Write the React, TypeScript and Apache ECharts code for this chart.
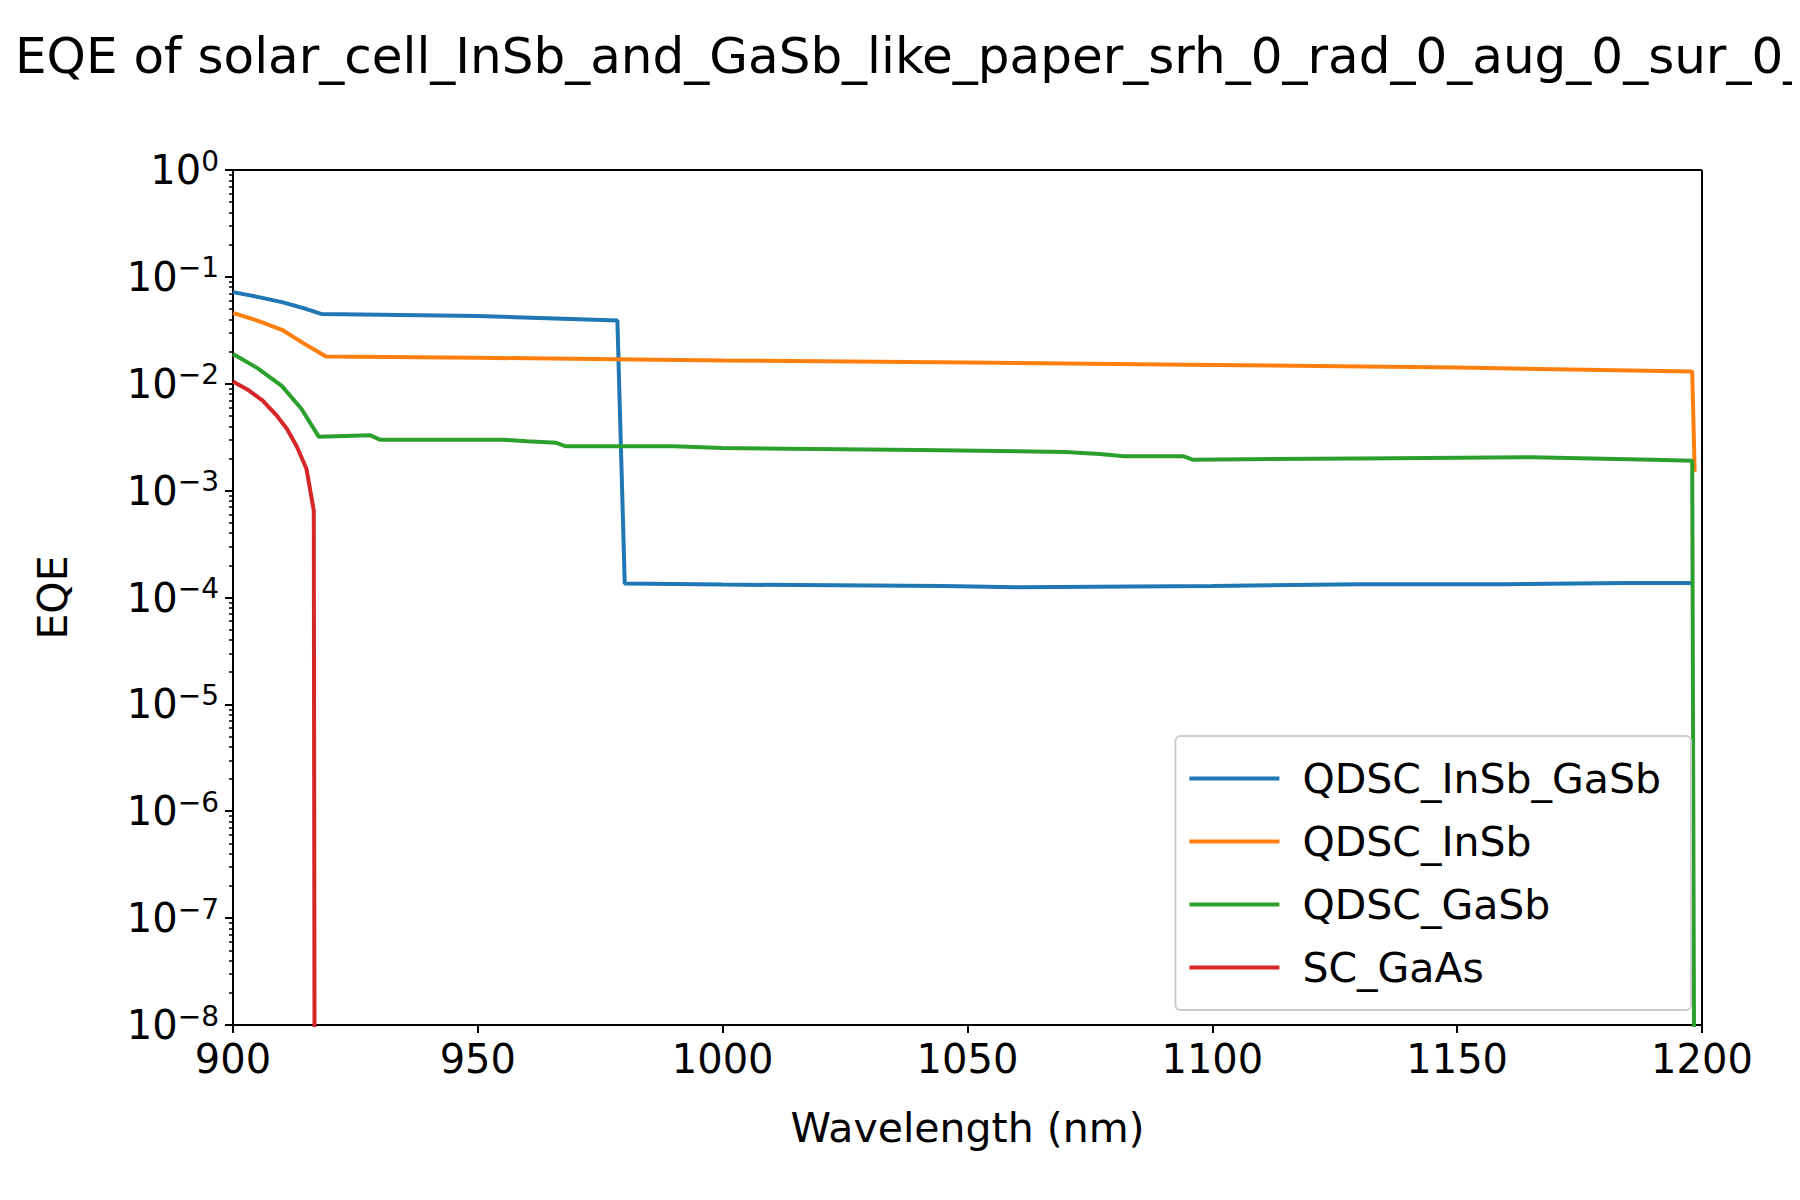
import React, { useEffect, useRef } from "react";
import * as echarts from "echarts";

const seriesNames = ["QDSC_InSb_GaSb", "QDSC_InSb", "QDSC_GaSb", "SC_GaAs"];
const colors = ["#1f77b4", "#ff7f0e", "#2ca02c", "#d62728"];
const blue: [number, number][] = [[900, 0.072], [905, 0.065], [910, 0.058], [915, 0.05], [918, 0.045], [950, 0.043], [978.5, 0.039], [980, 0.000135], [1000, 0.000132], [1045, 0.000128], [1060, 0.000125], [1100, 0.000128], [1130, 0.000133], [1160, 0.000133], [1185, 0.000137], [1198, 0.000137]];
const orange: [number, number][] = [[900, 0.046], [905, 0.039], [910, 0.032], [915, 0.023], [919, 0.018], [950, 0.0175], [1000, 0.0165], [1050, 0.0158], [1100, 0.015], [1150, 0.0142], [1198, 0.013], [1198.5, 0.0015]];
const green: [number, number][] = [[900, 0.019], [905, 0.014], [910, 0.0095], [914, 0.0058], [917.5, 0.0032], [928, 0.0033], [930, 0.003], [945, 0.003], [955, 0.003], [960, 0.0029], [966, 0.0028], [968, 0.0026], [990, 0.0026], [1000, 0.0025], [1040, 0.0024], [1070, 0.0023], [1077, 0.0022], [1082, 0.0021], [1094, 0.0021], [1096, 0.00195], [1130, 0.002], [1165, 0.00205], [1190, 0.00195], [1198, 0.0019], [1198.5, 1e-10]];
const red: [number, number][] = [[900, 0.0105], [903, 0.0088], [906, 0.007], [909, 0.005], [911, 0.0038], [913, 0.0026], [915, 0.0016], [916.5, 0.00065], [916.7, 1e-10]];
const allData = [blue, orange, green, red];

const sup: Record<string, string> = { "-": "−", "0": "0", "1": "1", "2": "2", "3": "3", "4": "4", "5": "5", "6": "6", "7": "7", "8": "8" };

export default function App() {
  const ref = useRef<HTMLDivElement>(null);
  useEffect(() => {
    const chart = echarts.init(ref.current!, null, { renderer: "svg" });
    const font = "DejaVu Sans";
    const L = 225, R = 1800 - 106, T = 162, B = 1200 - 183;
    chart.setOption({
      animation: false,
      textStyle: { fontFamily: font },
      title: { text: "EQE of solar_cell_InSb_and_GaSb_like_paper_srh_0_rad_0_aug_0_sur_0_", left: 2, top: 18, textStyle: { fontSize: 50, fontWeight: "normal", color: "#000", fontFamily: font } },
      grid: { left: L, right: 1800 - R, top: T, bottom: 1200 - B },
      legend: {
        orient: "vertical", right: 1800 - 1683, top: 728, itemWidth: 90, itemHeight: 4, itemGap: 22,
        padding: [22, 30, 22, 14], borderColor: "#ccc", borderWidth: 2, borderRadius: 5,
        icon: "rect", textStyle: { fontSize: 41, color: "#000", fontFamily: font, padding: [0, 0, 0, 18] },
        data: seriesNames,
      },
      xAxis: {
        type: "value", min: 900, max: 1200, interval: 50, name: "Wavelength (nm)", nameLocation: "middle", nameGap: 82,
        nameTextStyle: { fontSize: 41, color: "#000" },
        axisLine: { lineStyle: { color: "#000", width: 2 } }, axisTick: { length: 8, lineStyle: { color: "#000", width: 2 } },
        axisLabel: { fontSize: 40, color: "#000", margin: 14, formatter: (v: number) => String(v) }, splitLine: { show: false },
      },
      yAxis: {
        type: "log", logBase: 10, min: 1e-8, max: 1, name: "EQE", nameLocation: "middle", nameGap: 160,
        nameTextStyle: { fontSize: 41, color: "#000" },
        axisLine: { show: true, lineStyle: { color: "#000", width: 2 } }, axisTick: { length: 8, lineStyle: { color: "#000", width: 2 } },
        minorTick: { show: true, splitNumber: 9, length: 4, lineStyle: { color: "#000", width: 1.5 } },
        axisLabel: {
          fontSize: 40, color: "#000", margin: 14,
          formatter: (v: number) => { const e = Math.round(Math.log10(v)); return "10{s|" + String(e).split("").map(c => sup[c]).join("") + "}"; },
          rich: { s: { fontSize: 28, verticalAlign: "top", padding: [0, 0, 18, 0] } },
        },
        splitLine: { show: false },
      },
      series: seriesNames.map((n, i) => ({
        name: n, type: "line", data: allData[i], showSymbol: false, symbol: "none", color: colors[i],
        lineStyle: { width: 4, color: colors[i] }, clip: true,
      })),
      graphic: [
        { type: "line", shape: { x1: L, y1: T, x2: R, y2: T }, style: { stroke: "#000", lineWidth: 2 } },
        { type: "line", shape: { x1: R, y1: T, x2: R, y2: B }, style: { stroke: "#000", lineWidth: 2 } },
      ],
    });
    return () => chart.dispose();
  }, []);
  return <div ref={ref} style={{ width: 1800, height: 1200 }} />;
}
